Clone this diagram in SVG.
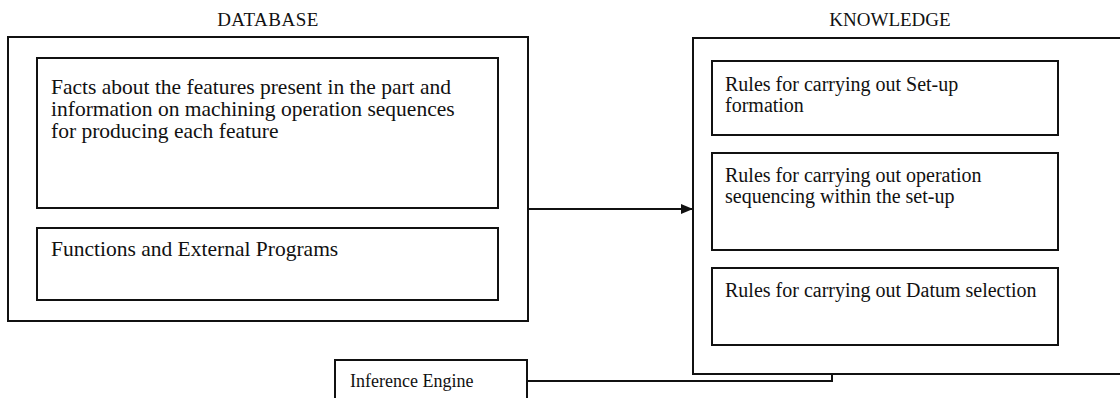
<svg xmlns="http://www.w3.org/2000/svg" width="1120" height="398" viewBox="0 0 1120 398">
<style>
.box{fill:none;stroke:#111;stroke-width:2}
.t{font-family:"Liberation Serif","Times New Roman",serif;fill:#111}
.db{font-size:21.5px}
.kr{font-size:20px}
.h{font-family:"Liberation Serif","Times New Roman",serif;font-size:19px;fill:#111;text-anchor:middle}
.c{fill:none;stroke:#111;stroke-width:2}
</style>
<defs>
<marker id="arr" markerWidth="12" markerHeight="10" refX="11" refY="5" orient="auto" markerUnits="userSpaceOnUse">
<path d="M0,0 L12,5 L0,10 Z" fill="#111"/>
</marker>
</defs>
<rect width="1120" height="398" fill="#fff"/>
<g id="database">
<text class="h" x="268" y="26" letter-spacing="0.5">DATABASE</text>
<rect class="box" x="8" y="37" width="520" height="284"/>
</g>
<g id="facts">
<rect class="box" x="37" y="58" width="461" height="150"/>
<text class="t db" x="51" y="94">Facts about the features present in the part and</text>
<text class="t db" x="51" y="116">information on machining operation sequences</text>
<text class="t db" x="51" y="138">for producing each feature</text>
</g>
<g id="functions">
<rect class="box" x="37" y="228" width="461" height="72"/>
<text class="t db" x="51" y="256">Functions and External Programs</text>
</g>
<g id="knowledge">
<text class="h" x="890" y="26">KNOWLEDGE</text>
<rect class="box" x="693" y="38" width="440" height="336"/>
</g>
<g id="setup">
<rect class="box" x="712" y="61" width="346" height="74"/>
<text class="t kr" x="725" y="91">Rules for carrying out Set-up</text>
<text class="t kr" x="725" y="112">formation</text>
</g>
<g id="sequencing">
<rect class="box" x="712" y="153" width="346" height="97"/>
<text class="t kr" x="725" y="182">Rules for carrying out operation</text>
<text class="t kr" x="725" y="203">sequencing within the set-up</text>
</g>
<g id="datum">
<rect class="box" x="712" y="268" width="346" height="77"/>
<text class="t kr" x="725" y="297">Rules for carrying out Datum selection</text>
</g>
<g id="inference">
<rect class="box" x="335" y="360" width="192" height="45"/>
<text class="t" x="350" y="387" font-size="18">Inference Engine</text>
</g>
<g id="connectors">
<line class="c" x1="528" y1="209" x2="692" y2="209" marker-end="url(#arr)"/>
<polyline class="c" points="527,381 832,381 832,374"/>
</g>
</svg>
